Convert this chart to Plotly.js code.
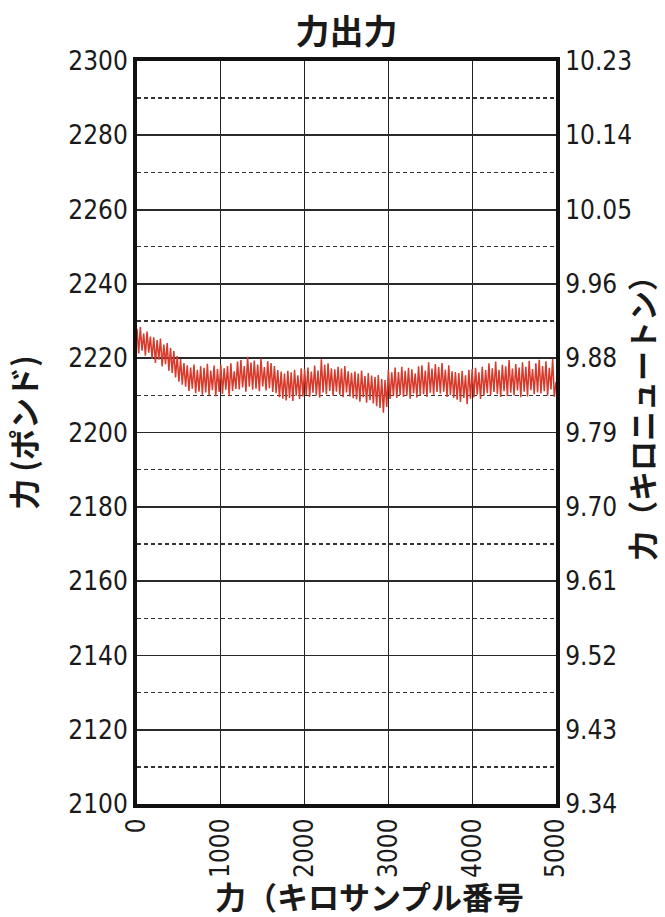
<!DOCTYPE html>
<html>
<head>
<meta charset="utf-8">
<script src="https://cdn.plot.ly/plotly-3.0.1.min.js"></script>
<style>
  html, body { margin: 0; padding: 0; background: #ffffff; }
  #chart { width: 665px; height: 917px; }
  .xtick text, .ytick text, .y2tick text { font-stretch: condensed; }
</style>
</head>
<body>
<div id="chart"></div>
<script>
// ---- data ----
var chartTitle = "力出力";
var xTitle = "力（キロサンプル番号";
var yLeftTitle = "力 (ポンド)";
var yRightTitle = "力（キロニュートン）";

// sample spacing of the series (kilo-sample index)
var sampleStart = 0;
var sampleStep = 20;

// force in pounds, one value every 20 samples, 0 .. 5000
var forceLbs = [
  2227.9, 2221.3, 2228.4, 2222.0, 2226.6, 2220.7, 2227.2, 2221.5, 2225.8, 2219.9,
  2225.6, 2218.7, 2224.9, 2219.6, 2225.3, 2217.8, 2223.7, 2218.4, 2224.1, 2216.6,
  2222.8, 2216.0, 2221.9, 2214.8, 2220.6, 2213.7, 2219.8, 2212.9, 2218.7, 2212.3,
  2218.1, 2211.2, 2217.5, 2211.8, 2218.3, 2210.6, 2216.9, 2211.0, 2217.8, 2210.2,
  2217.4, 2210.8, 2218.5, 2210.1, 2216.7, 2211.4, 2218.0, 2209.8, 2217.1, 2210.9,
  2218.2, 2210.4, 2217.3, 2211.5, 2217.9, 2210.0, 2218.6, 2211.2, 2216.5, 2211.7,
  2219.1, 2211.6, 2219.5, 2212.1, 2217.9, 2211.0, 2220.4, 2212.3, 2218.8, 2211.5,
  2219.4, 2211.8, 2218.3, 2211.1, 2219.9, 2212.4, 2217.6, 2211.3, 2219.2, 2211.9,
  2218.7, 2210.9, 2217.9, 2210.6, 2216.8, 2209.5, 2216.4, 2209.1, 2215.9, 2208.6,
  2216.6, 2209.3, 2216.2, 2208.5, 2216.9, 2209.9, 2215.4, 2209.0, 2217.3, 2209.7,
  2217.1, 2210.1, 2217.5, 2209.6, 2216.4, 2210.7, 2218.0, 2210.0, 2216.7, 2209.4,
  2219.7, 2210.8, 2218.2, 2210.3, 2218.6, 2211.2, 2217.3, 2209.9, 2217.0, 2211.0,
  2217.7, 2210.2, 2217.2, 2209.5, 2217.9, 2210.8, 2216.5, 2209.7, 2216.1, 2209.2,
  2216.4, 2208.9, 2215.9, 2208.3, 2216.7, 2209.5, 2215.2, 2208.0, 2216.0, 2208.7,
  2215.3, 2207.8, 2214.9, 2207.1, 2215.5, 2206.6, 2214.4, 2205.3, 2214.1, 2206.9,
  2216.9, 2209.0, 2216.2, 2209.8, 2217.5, 2209.3, 2216.3, 2210.1, 2217.7, 2209.6,
  2216.6, 2209.9, 2217.4, 2209.1, 2217.0, 2210.5, 2215.9, 2209.4, 2217.8, 2210.0,
  2218.1, 2210.3, 2216.7, 2209.6, 2218.9, 2210.7, 2217.2, 2210.2, 2218.4, 2210.9,
  2217.6, 2210.5, 2218.7, 2211.0, 2216.9, 2209.6, 2218.1, 2210.1, 2216.5, 2209.3,
  2216.3, 2208.8, 2216.0, 2208.2, 2216.6, 2209.3, 2215.4, 2207.6, 2216.9, 2209.1,
  2217.1, 2209.4, 2217.4, 2210.2, 2216.2, 2209.0, 2217.7, 2209.9, 2216.8, 2210.6,
  2218.6, 2210.1, 2217.3, 2210.9, 2219.1, 2210.4, 2216.9, 2209.6, 2218.2, 2211.1,
  2217.8, 2209.8, 2219.5, 2210.7, 2217.2, 2210.0, 2218.4, 2211.3, 2217.5, 2209.5,
  2218.9, 2211.0, 2217.7, 2209.7, 2219.3, 2211.4, 2217.1, 2210.3, 2218.6, 2210.8,
  2219.6, 2210.5, 2217.9, 2211.1, 2219.2, 2209.9, 2217.4, 2211.6, 2219.8, 2209.6,
  2213.6
];

var xTickVals = [0, 1000, 2000, 3000, 4000, 5000];
var xTickText = ["0", "1000", "2000", "3000", "4000", "5000"];
var yLeftTickVals = [2100, 2120, 2140, 2160, 2180, 2200, 2220, 2240, 2260, 2280, 2300];
var yLeftTickText = ["2100", "2120", "2140", "2160", "2180", "2200", "2220", "2240", "2260", "2280", "2300"];
var yRightTickText = ["9.34", "9.43", "9.52", "9.61", "9.70", "9.79", "9.88", "9.96", "10.05", "10.14", "10.23"];

// ---- styling ----
var numFont = "'DejaVu Sans Condensed', 'DejaVu Sans', sans-serif";
var cjkFont = "'Noto Sans CJK JP', 'Noto Sans CJK SC', sans-serif";
var ink = "#1a1a1a";

var traces = [
  {
    type: "scatter",
    mode: "lines",
    x0: sampleStart,
    dx: sampleStep,
    y: forceLbs,
    xaxis: "x",
    yaxis: "y",
    line: { color: "#d7392b", width: 1.5 },
    hoverinfo: "skip",
    showlegend: false
  },
  {
    // same series on the right (kN) axis, invisible: keeps the right axis drawn
    type: "scatter",
    mode: "lines",
    x0: sampleStart,
    dx: sampleStep,
    y: forceLbs,
    xaxis: "x",
    yaxis: "y2",
    line: { color: "rgba(0,0,0,0)", width: 0 },
    hoverinfo: "skip",
    showlegend: false
  }
];

var layout = {
  width: 665,
  height: 917,
  margin: { l: 137, r: 109, t: 61, b: 113, pad: 0 },
  paper_bgcolor: "#ffffff",
  plot_bgcolor: "#ffffff",
  showlegend: false,
  title: {
    text: "<b>" + chartTitle + "</b>",
    font: { family: cjkFont, size: 34, color: ink },
    x: 0.521, xanchor: "center",
    y: 0.965, yanchor: "middle"
  },
  xaxis: {
    range: [0, 5000],
    tickvals: xTickVals,
    ticktext: xTickText,
    tickangle: -90,
    tickfont: { family: numFont, size: 26, color: ink },
    ticks: "",
    showgrid: true,
    gridcolor: "#222222",
    gridwidth: 1,
    zeroline: false,
    showline: true,
    linecolor: "#111111",
    linewidth: 4,
    mirror: true,
    fixedrange: true
  },
  yaxis: {
    range: [2100, 2300],
    tickvals: yLeftTickVals,
    ticktext: yLeftTickText,
    tickfont: { family: numFont, size: 26, color: ink },
    ticks: "",
    showgrid: true,
    gridcolor: "#2a2a2a",
    gridwidth: 1.8,
    minor: {
      dtick: 10,
      tick0: 2100,
      showgrid: true,
      gridcolor: "#333333",
      gridwidth: 1.4,
      griddash: "4px,3px",
      ticks: ""
    },
    zeroline: false,
    showline: true,
    linecolor: "#111111",
    linewidth: 4,
    title: {
      text: yLeftTitle,
      font: { family: cjkFont, size: 31, color: ink, weight: 600 },
      standoff: 24
    },
    automargin: false,
    fixedrange: true
  },
  yaxis2: {
    overlaying: "y",
    side: "right",
    range: [2100, 2300],
    tickvals: yLeftTickVals,
    ticktext: yRightTickText,
    tickfont: { family: numFont, size: 26, color: ink },
    ticks: "",
    showgrid: false,
    zeroline: false,
    showline: true,
    linecolor: "#111111",
    linewidth: 4,
    automargin: false,
    fixedrange: true
  },
  annotations: [
    {
      text: "<b>" + xTitle + "</b>",
      xref: "paper", yref: "paper",
      x: 0.556, y: -0.1235,
      xanchor: "center", yanchor: "middle",
      showarrow: false,
      font: { family: cjkFont, size: 31, color: ink }
    },
    {
      // right (kN) axis title
      text: yRightTitle,
      xref: "paper", yref: "paper",
      x: 1.203, y: 0.529,
      xanchor: "center", yanchor: "middle",
      textangle: -90,
      showarrow: false,
      font: { family: cjkFont, size: 30, color: ink, weight: 600 }
    }
  ]
};

Plotly.newPlot("chart", traces, layout, { staticPlot: true, displayModeBar: false });
</script>
</body>
</html>
